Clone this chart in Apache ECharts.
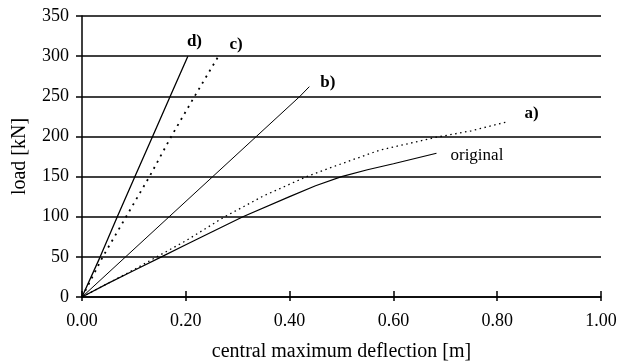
<!DOCTYPE html>
<html><head><meta charset="utf-8">
<script src="https://cdn.jsdelivr.net/npm/echarts@6/dist/echarts.min.js"></script>
<style>html,body{margin:0;padding:0;background:#fff}#c{width:623px;height:364px}</style>
</head><body><div id="c"></div>
<script>
var xTicks = [0, 0.2, 0.4, 0.6, 0.8, 1.0];
var yTicks = [0, 50, 100, 150, 200, 250, 300, 350];
var seriesNames = ['d)', 'c)', 'b)', 'a)', 'original'];
var dData = [[0,0],[0.035,50],[0.068,100],[0.102,150],[0.136,200],[0.170,250],[0.204,300]];
var cData = [[0,0],[0.04,50],[0.085,100],[0.13,150],[0.172,200],[0.217,250],[0.263,300]];
var bData = [[0,0],[0.084,50],[0.168,100],[0.252,150],[0.336,200],[0.42,250],[0.438,262]];
var aData = [[0,0],[0.05,17],[0.1,34],[0.144,50],[0.2,70],[0.275,100],[0.35,126],[0.433,150],[0.5,166],[0.574,183],[0.683,199],[0.75,207],[0.818,218]];
var origData = [[0,0],[0.05,17],[0.1,33],[0.153,50],[0.2,65],[0.25,81],[0.31,100],[0.4,125],[0.45,138.5],[0.5,150],[0.55,158.5],[0.6,166],[0.683,179]];

var font = 'Liberation Serif';
var chart = echarts.init(document.getElementById('c'));
function endLbl(text, off, bold) {
  return {show: true, formatter: text, offset: off, color: '#000', fontFamily: font, fontSize: 17, fontWeight: bold ? 'bold' : 'normal'};
}
chart.setOption({
  animation: false,
  backgroundColor: '#fff',
  grid: {left: 82, right: 22, top: 16, bottom: 67, containLabel: false, outerBoundsMode: 'none'},
  xAxis: [{
    type: 'value', min: 0, max: 1.0, interval: 0.2,
    name: 'central maximum deflection [m]', nameLocation: 'middle', nameGap: 45,
    nameTextStyle: {color: '#000', fontFamily: font, fontSize: 20},
    axisLine: {show: true, lineStyle: {color: '#000', width: 1.5}},
    axisTick: {show: true, inside: true, length: 6, lineStyle: {color: '#000', width: 1.5}},
    axisLabel: {color: '#000', fontFamily: font, fontSize: 18, margin: 15, formatter: function(v){return v.toFixed(2);}},
    splitLine: {show: false}
  }, {
    type: 'value', min: 0, max: 1.0, interval: 0.2, position: 'bottom',
    axisLine: {show: false},
    axisTick: {show: true, inside: false, length: 4, lineStyle: {color: '#000', width: 1.5}},
    axisLabel: {show: false}, splitLine: {show: false}
  }],
  yAxis: {
    type: 'value', min: 0, max: 350, interval: 50,
    name: 'load [kN]', nameLocation: 'middle', nameGap: 52, nameRotate: 90,
    nameTextStyle: {color: '#000', fontFamily: font, fontSize: 20},
    axisLine: {show: true, lineStyle: {color: '#000', width: 1.5}},
    axisTick: {show: true, length: 6, lineStyle: {color: '#000', width: 1.5}},
    axisLabel: {color: '#000', fontFamily: font, fontSize: 18, margin: 13,
      formatter: function(v){return yTicks.indexOf(v) >= 0 ? String(v) : '';}},
    splitLine: {show: true, lineStyle: {color: '#000', width: 1.5}}
  },
  series: [
    {name: seriesNames[0], type: 'line', data: dData, symbol: 'none', lineStyle: {color: '#000', width: 1.3},
     endLabel: endLbl('d)', [-9, -15], true)},
    {name: seriesNames[1], type: 'line', data: cData, symbol: 'none', lineStyle: {color: '#000', width: 1.8, type: [2, 5]},
     endLabel: endLbl('c)', [3, -12], true)},
    {name: seriesNames[2], type: 'line', data: bData, symbol: 'none', lineStyle: {color: '#000', width: 1},
     endLabel: endLbl('b)', [3, -4], true)},
    {name: seriesNames[3], type: 'line', data: aData, symbol: 'none', lineStyle: {color: '#000', width: 1.3, type: [1.5, 3.5]},
     endLabel: endLbl('a)', [10, -8], true)},
    {name: seriesNames[4], type: 'line', data: origData, symbol: 'none', lineStyle: {color: '#000', width: 1.2},
     endLabel: endLbl('original', [6, 2], false)}
  ]
});
</script></body></html>
